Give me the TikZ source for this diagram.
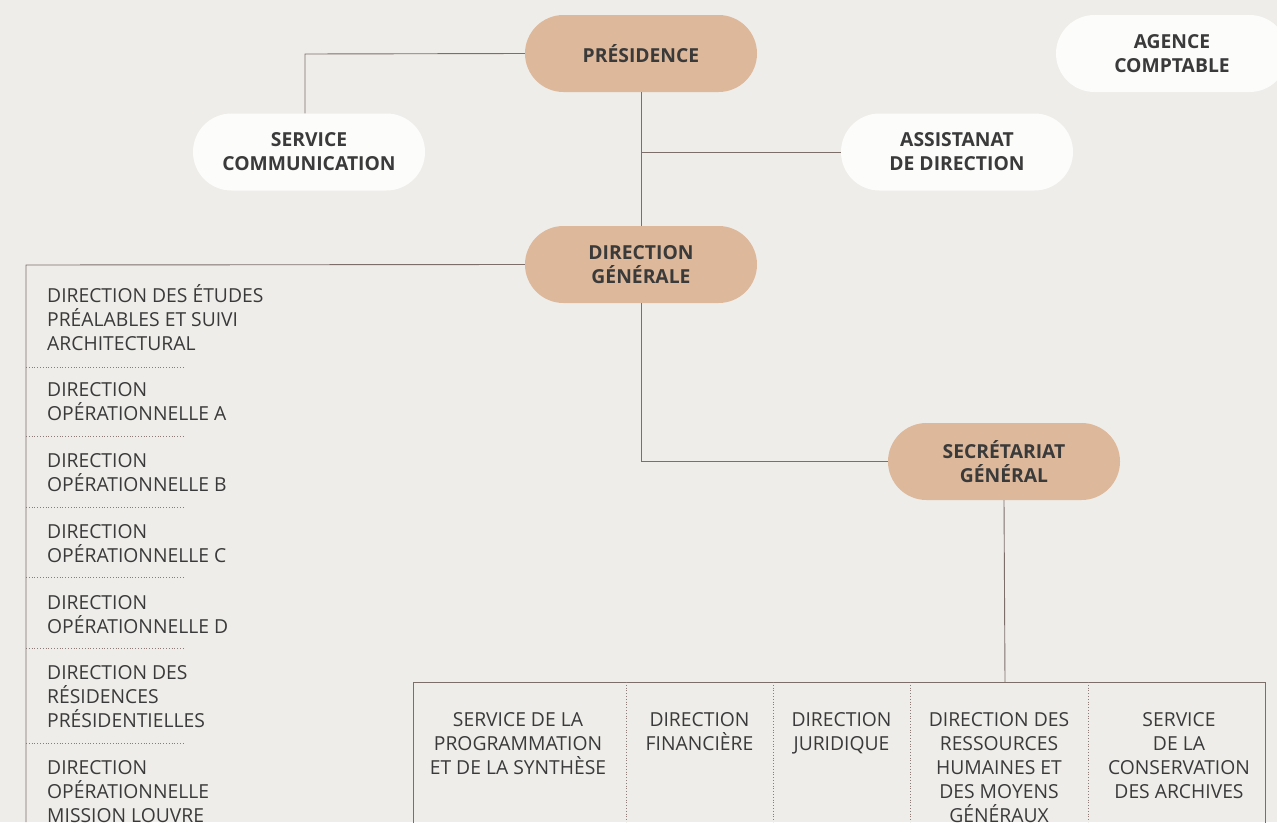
\documentclass[tikz,border=0pt]{standalone}
\usepackage{fontspec}
\setmainfont{Open Sans}
\definecolor{bg}{HTML}{EFEDE9}
\definecolor{peach}{HTML}{DDB89B}
\definecolor{wbox}{HTML}{FCFCFB}
\definecolor{ln}{HTML}{7D6E6A}
\definecolor{dotln}{HTML}{8E7A76}
\definecolor{txt}{HTML}{3A3A3A}
\begin{document}
\begin{tikzpicture}[x=1pt,y=-1pt,
  every node/.style={text=txt},
  pill/.style={rounded corners=38.5pt,minimum width=232pt,minimum height=77pt,inner sep=0pt,align=center,
    font=\bfseries\fontsize{19.3}{24}\selectfont},
  main/.style={pill,fill=peach},
  side/.style={pill,fill=wbox},
  conn/.style={draw=ln,line width=0.9pt},
  sep/.style={draw=dotln,line width=0.8pt,dotted},
  item/.style={anchor=north west,inner sep=0pt,align=left,font=\fontsize{19.3}{24}\selectfont},
  col/.style={anchor=north,inner sep=0pt,align=center,font=\fontsize{19.3}{24}\selectfont}]
\fill[bg] (0,0) rectangle (1277,822);
\useasboundingbox (0,0) rectangle (1277,822);

\node[main] (pres) at (641,53.5) {PRÉSIDENCE};
\node[side] (com) at (309,152) {SERVICE\\COMMUNICATION};
\node[side] (asst) at (957,152) {ASSISTANAT\\DE DIRECTION};
\node[main] (dg) at (641,264.5) {DIRECTION\\GÉNÉRALE};
\node[main] (sg) at (1004,461.5) {SECRÉTARIAT\\GÉNÉRAL};
\node[side] (ac) at (1172,53.5) {AGENCE\\COMPTABLE};

\coordinate (c1) at (305,54);
\coordinate (c2) at (641,152);
\coordinate (c3) at (26,265);
\coordinate (c4) at (26,822);
\coordinate (c5) at (641,461.5);
\coordinate (c6) at (1005,682);

\draw[conn] (pres.west) -- (c1) -- (c1 |- com.north);
\draw[conn] (pres.south) -- (dg.north);
\draw[conn] (c2) -- (asst.west);
\draw[conn] (dg.west) -- (c3) -- (c4);
\draw[conn] (dg.south) -- (c5) -- (sg.west);
\draw[conn] (sg.south) -- (c6);

% bottom box
\draw[conn] (413,830) -- (413,682) -- (1265,682) -- (1265,830);
\draw[sep] (626,682) -- (626,822);
\draw[sep] (773,682) -- (773,822);
\draw[sep] (910,682) -- (910,822);
\draw[sep] (1088,682) -- (1088,822);

\node[col] (b1) at (518,712) {SERVICE DE LA\\PROGRAMMATION\\ET DE LA SYNTHÈSE};
\node[col] (b2) at (699.5,712) {DIRECTION\\FINANCIÈRE};
\node[col] (b3) at (841.5,712) {DIRECTION\\JURIDIQUE};
\node[col] (b4) at (999,712) {DIRECTION DES\\RESSOURCES\\HUMAINES ET\\DES MOYENS\\GÉNÉRAUX};
\node[col] (b5) at (1179,712) {SERVICE\\DE LA\\CONSERVATION\\DES ARCHIVES};

% list
\node[item] (l1) at (47,284) {DIRECTION DES ÉTUDES\\PRÉALABLES ET SUIVI\\ARCHITECTURAL};
\draw[sep] (26,367) -- (185,367);
\node[item] (l2) at (47,382) {DIRECTION\\OPÉRATIONNELLE A};
\draw[sep] (26,436) -- (185,436);
\node[item] (l3) at (47,453) {DIRECTION\\OPÉRATIONNELLE B};
\draw[sep] (26,507) -- (185,507);
\node[item] (l4) at (47,524) {DIRECTION\\OPÉRATIONNELLE C};
\draw[sep] (26,577) -- (185,577);
\node[item] (l5) at (47,595) {DIRECTION\\OPÉRATIONNELLE D};
\draw[sep] (26,648) -- (185,648);
\node[item] (l6) at (47,665) {DIRECTION DES\\RÉSIDENCES\\PRÉSIDENTIELLES};
\draw[sep] (26,743) -- (185,743);
\node[item] (l7) at (47,760) {DIRECTION\\OPÉRATIONNELLE\\MISSION LOUVRE};
\end{tikzpicture}
\end{document}
